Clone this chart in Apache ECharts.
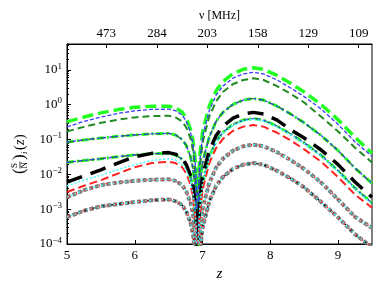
<!DOCTYPE html>
<html>
<head>
<meta charset="utf-8">
<script src="https://cdn.jsdelivr.net/npm/echarts@6/dist/echarts.min.js"></script>
<style>html,body{margin:0;padding:0;background:#fff}#c{width:388px;height:291px}</style>
</head>
<body>
<div id="c"></div>
<script>
// z grid
const zVals = [5, 5.25, 5.5, 5.75, 6, 6.25, 6.5, 6.6, 6.7, 6.76, 6.82, 6.86, 6.89, 6.91, 6.925, 6.94, 6.96, 7.0, 7.05, 7.1, 7.2, 7.3, 7.45, 7.6, 7.75, 7.9, 8.1, 8.3, 8.5, 8.75, 9.0, 9.25, 9.5];

const limeA  = [0.32, 0.44, 0.58, 0.72, 0.84, 0.9, 0.9, 0.81, 0.61, 0.4, 0.2, 0.09, 0.027, 0.0054, 1e-6, 0.006, 0.035, 0.16, 0.4, 0.92, 2.5, 4.6, 7.8, 10.3, 11.5, 10.3, 6.9, 4.1, 2.3, 1.0, 0.37, 0.115, 0.04];
const blueA  = [0.23, 0.33, 0.44, 0.56, 0.66, 0.73, 0.74, 0.67, 0.5, 0.33, 0.165, 0.074, 0.022, 0.0045, 1e-6, 0.0043, 0.026, 0.12, 0.3, 0.68, 1.87, 3.4, 5.8, 7.6, 8.5, 7.6, 5.1, 3.0, 1.7, 0.75, 0.27, 0.085, 0.033];
const dgreenA = [0.17, 0.23, 0.3, 0.37, 0.43, 0.47, 0.48, 0.43, 0.33, 0.22, 0.11, 0.048, 0.014, 0.003, 1e-6, 0.0029, 0.017, 0.08, 0.2, 0.46, 1.25, 2.3, 3.9, 5.1, 5.7, 5.1, 3.4, 2.05, 1.15, 0.45, 0.17, 0.058, 0.022];
const groupB = [0.084, 0.097, 0.11, 0.123, 0.135, 0.145, 0.15, 0.135, 0.1, 0.067, 0.033, 0.015, 0.0045, 0.0009, 1e-6, 0.00075, 0.0045, 0.021, 0.053, 0.12, 0.33, 0.6, 1.02, 1.35, 1.5, 1.35, 0.9, 0.54, 0.3, 0.13, 0.048, 0.015, 0.0055];
const groupC = [0.022, 0.025, 0.028, 0.032, 0.036, 0.039, 0.04, 0.036, 0.027, 0.018, 0.009, 0.004, 0.0012, 0.00024, 1e-6, 0.0002, 0.0012, 0.0056, 0.014, 0.032, 0.088, 0.16, 0.27, 0.36, 0.4, 0.36, 0.24, 0.144, 0.08, 0.035, 0.0128, 0.004, 0.0015];
const blackD = [0.006, 0.009, 0.0135, 0.021, 0.032, 0.04, 0.042, 0.038, 0.029, 0.019, 0.0095, 0.0042, 0.0013, 0.00025, 1e-6, 0.0003, 0.0018, 0.0084, 0.021, 0.048, 0.13, 0.24, 0.41, 0.54, 0.6, 0.54, 0.36, 0.19, 0.11, 0.05, 0.019, 0.006, 0.0022];
const cyanD  = [0.0047, 0.0068, 0.0095, 0.0135, 0.019, 0.025, 0.028, 0.026, 0.019, 0.013, 0.0064, 0.0028, 0.0009, 0.00018, 1e-6, 0.00019, 0.0011, 0.0053, 0.013, 0.03, 0.084, 0.15, 0.26, 0.34, 0.38, 0.34, 0.23, 0.137, 0.076, 0.033, 0.012, 0.0038, 0.0014];
const redD   = [0.0031, 0.0047, 0.0068, 0.0105, 0.016, 0.021, 0.023, 0.021, 0.016, 0.0105, 0.0052, 0.0023, 0.0007, 0.00014, 1e-6, 0.00013, 0.00078, 0.0036, 0.009, 0.021, 0.057, 0.104, 0.177, 0.234, 0.26, 0.234, 0.156, 0.094, 0.052, 0.023, 0.0083, 0.0026, 0.0011];
const groupE = [0.0022, 0.0035, 0.0049, 0.0058, 0.0065, 0.007, 0.0072, 0.0065, 0.0049, 0.0032, 0.0016, 0.0007, 0.0002, 0.00004, 1e-6, 0.00004, 0.0002, 0.001, 0.0025, 0.0057, 0.0156, 0.028, 0.048, 0.064, 0.071, 0.064, 0.043, 0.0256, 0.0142, 0.0058, 0.0019, 0.0006, 0.00029];
const groupF = [0.00059, 0.0009, 0.0012, 0.0014, 0.0016, 0.0018, 0.0019, 0.0017, 0.0013, 0.00085, 0.00042, 0.00019, 0.00005, 0.00001, 1e-7, 0.00001, 0.00006, 0.00029, 0.0007, 0.0017, 0.0046, 0.0084, 0.0143, 0.0189, 0.021, 0.0189, 0.0126, 0.0076, 0.0042, 0.0016, 0.00058, 0.00019, 0.00008];

// ticks
const xTicks = [5, 6, 7, 8, 9];
const topTickPos = [5.58, 6.327, 7.07, 7.815, 8.558, 9.304];
const topTickLabels = ['473', '284', '203', '158', '129', '109'];
const yTicks = [1e-4, 1e-3, 1e-2, 1e-1, 1, 10];
const yMinor = [];
[1e-4, 1e-3, 1e-2, 1e-1, 1, 10].forEach(function (d) { [2,3,4,5,6,7,8,9].forEach(function (m) { if (d * m < 55) yMinor.push(d * m); }); });

const FONT = 'Liberation Serif';
const LIME = '#22ff22', BLUE = '#3b3bff', DGREEN = '#218a21', BLACK = '#000000', CYAN = '#44ffff', RED = '#ff2020', GREY = '#7f7f7f';

function mk(arr, color, width, dash, z) {
  return {
    type: 'line', data: zVals.map(function (v, i) { return [v, arr[i]]; }),
    showSymbol: false, symbol: 'none', clip: true, z: z || 2,
    lineStyle: { color: color, width: width, type: dash, cap: 'butt' },
    silent: true, animation: false
  };
}

const series = [
  mk(groupF, GREY, 4, [4, 2], 2),
  mk(groupE, GREY, 4, [4, 2], 2),
  mk(limeA, LIME, 3.5, [11, 5], 3),
  mk(groupB, LIME, 3, [7, 3, 2, 3], 3),
  mk(groupC, LIME, 3, [7, 3, 2, 3], 3),
  mk(dgreenA, DGREEN, 2, [7, 4], 4),
  mk(groupB, DGREEN, 1.6, [6, 5], 4),
  mk(groupC, DGREEN, 1.6, [6, 5], 4),
  mk(blueA, BLUE, 1.3, [4, 2], 5),
  mk(groupB, BLUE, 1.2, [3, 3], 5),
  mk(groupC, BLUE, 1.2, [3, 3], 5),
  mk(blackD, BLACK, 3.5, [16, 9], 6),
  mk(groupF, BLACK, 1.5, [3, 6], 6),
  mk(redD, RED, 2, [8, 4], 7),
  mk(groupE, RED, 2, [3, 5], 7),
  mk(groupF, RED, 2, [3, 5], 7),
  mk(cyanD, CYAN, 1.5, [2, 2], 8),
  mk(groupE, CYAN, 1.2, [2, 2], 8),
  mk(groupF, CYAN, 1.2, [2, 2], 8)
];

const axisLineStyle = { color: '#000', width: 1 };
const chart = echarts.init(document.getElementById('c'), null, { renderer: 'canvas' });
chart.setOption({
  animation: false,
  backgroundColor: '#fff',
  textStyle: { fontFamily: FONT },
  grid: { left: 67, right: 16, top: 44, bottom: 47, show: true, borderColor: '#000', borderWidth: 1, backgroundColor: 'transparent' },
  xAxis: [
    {
      type: 'value', min: 5, max: 9.5, position: 'bottom',
      name: 'z', nameLocation: 'middle', nameGap: 22,
      nameTextStyle: { fontFamily: FONT, fontStyle: 'italic', fontSize: 15, color: '#000' },
      axisLine: { show: true, lineStyle: axisLineStyle },
      axisTick: { show: true, inside: true, length: 4, customValues: xTicks, lineStyle: axisLineStyle },
      axisLabel: { customValues: xTicks, fontFamily: FONT, fontSize: 13, color: '#000', margin: 5 },
      splitLine: { show: false }
    },
    {
      type: 'value', min: 5, max: 9.5, position: 'top',
      name: 'ν [MHz]', nameLocation: 'middle', nameGap: 20,
      nameTextStyle: { fontFamily: FONT, fontSize: 12, color: '#000' },
      axisLine: { show: true, lineStyle: axisLineStyle },
      axisTick: { show: true, inside: true, length: 4, customValues: topTickPos, lineStyle: axisLineStyle },
      axisLabel: {
        customValues: topTickPos, fontFamily: FONT, fontSize: 13, color: '#000', margin: 4,
        formatter: function (v) { const i = topTickPos.indexOf(v); return i >= 0 ? topTickLabels[i] : ''; }
      },
      splitLine: { show: false }
    }
  ],
  yAxis: [
    {
      type: 'log', logBase: 10, min: 1e-4, max: 55, position: 'left',
      axisLine: { show: true, lineStyle: axisLineStyle },
      axisTick: { show: true, inside: true, length: 4, customValues: yTicks, lineStyle: axisLineStyle },
      axisLabel: {
        customValues: yTicks, color: '#000', margin: 5,
        formatter: function (v) {
          const e = Math.round(Math.log10(v));
          return '{b|10}{s|' + (e < 0 ? '\u2212' + (-e) : e) + '}';
        },
        rich: {
          b: { fontFamily: FONT, fontSize: 13, color: '#000', lineHeight: 16 },
          s: { fontFamily: FONT, fontSize: 9, color: '#000', lineHeight: 16, verticalAlign: 'top', padding: [0, 0, 8, 0] }
        }
      },
      splitLine: { show: false }
    },
    {
      type: 'log', logBase: 10, min: 1e-4, max: 55, position: 'left',
      axisLine: { show: false },
      axisTick: { show: true, inside: true, length: 2, customValues: yMinor, lineStyle: axisLineStyle },
      axisLabel: { show: false },
      splitLine: { show: false }
    }
  ],
  graphic: [
    {
      type: 'group', x: 20, y: 140, rotation: Math.PI / 2,
      children: [
        { type: 'text', x: -34, y: 0, style: { text: '(', font: '17px "Liberation Serif"', fill: '#000', textVerticalAlign: 'middle' } },
        { type: 'text', x: -28, y: -5, style: { text: 'S', font: '9px "Liberation Serif"', fill: '#000', textVerticalAlign: 'middle' } },
        { type: 'line', shape: { x1: -28.5, y1: 0, x2: -21.5, y2: 0 }, style: { stroke: '#000', lineWidth: 0.8 } },
        { type: 'text', x: -28.5, y: 5, style: { text: 'N', font: '9px "Liberation Serif"', fill: '#000', textVerticalAlign: 'middle' } },
        { type: 'text', x: -20, y: 0, style: { text: ')', font: '17px "Liberation Serif"', fill: '#000', textVerticalAlign: 'middle' } },
        { type: 'text', x: -14, y: 5, style: { text: 'i', font: 'italic 9px "Liberation Serif"', fill: '#000', textVerticalAlign: 'middle' } },
        { type: 'text', x: -10, y: 0, style: { text: '(', font: '14px "Liberation Serif"', fill: '#000', textVerticalAlign: 'middle' } },
        { type: 'text', x: -5, y: 0, style: { text: 'z', font: 'italic 14px "Liberation Serif"', fill: '#000', textVerticalAlign: 'middle' } },
        { type: 'text', x: 1, y: 0, style: { text: ')', font: '14px "Liberation Serif"', fill: '#000', textVerticalAlign: 'middle' } }
      ]
    }
  ],
  series: series
});
</script>
</body>
</html>
